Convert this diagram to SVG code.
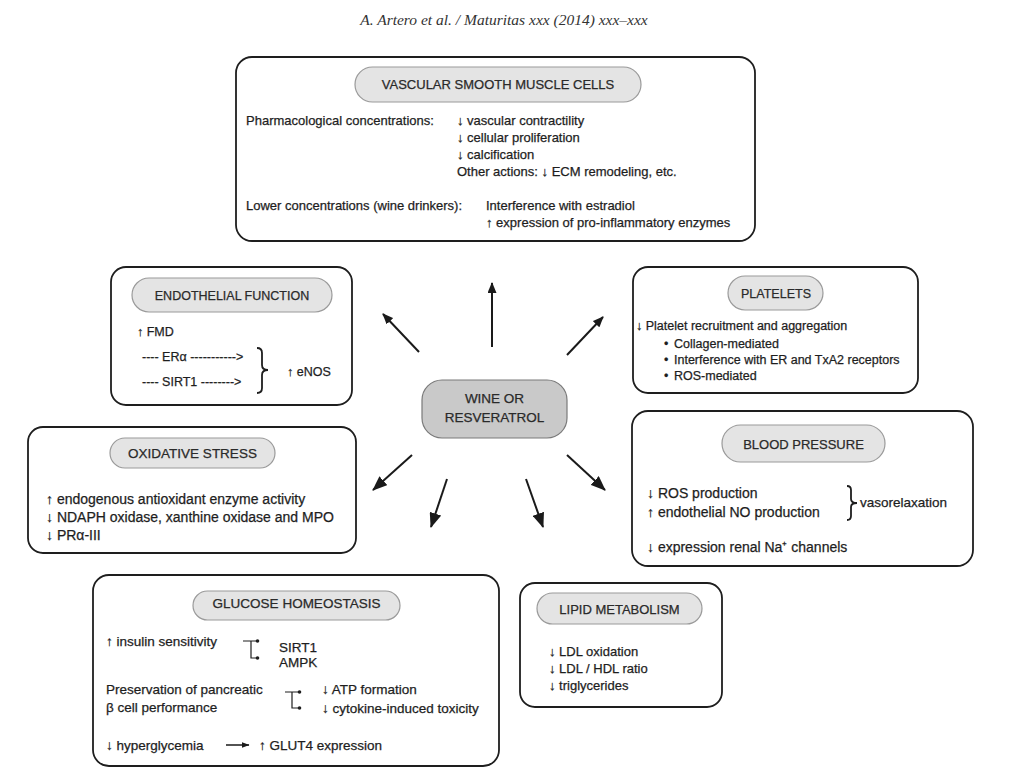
<svg xmlns="http://www.w3.org/2000/svg" width="1011" height="778" viewBox="0 0 1011 778">
<defs>
<style>
.box{fill:#fff;stroke:#1e1e1e;stroke-width:1.8}
.pill{fill:#e4e4e4;stroke:#9a9a9a;stroke-width:1.2}
.cpill{fill:#c9c9c9;stroke:#7a7a7a;stroke-width:1.2}
text{font-family:"Liberation Sans",Arial,sans-serif;fill:#1e1e1e;stroke:#1e1e1e;stroke-width:0.25}
.t{font-size:13px;text-anchor:middle;fill:#2a2a2a;stroke:#2a2a2a}
.b{font-size:13px}
.s{font-size:12.5px}
.e{font-size:12.5px}
.hdr{font-family:"Liberation Serif","Times New Roman",serif;font-style:italic;font-size:15.5px;text-anchor:middle;fill:#333;stroke:none}
.arr{stroke:#1a1a1a;stroke-width:2;fill:none}
.brace{stroke:#1e1e1e;stroke-width:1.8;fill:none}
.inh{stroke:#1e1e1e;stroke-width:1.2;fill:none}
</style>
<marker id="ahS" markerUnits="userSpaceOnUse" markerWidth="11" markerHeight="9" refX="10" refY="4.5" orient="auto" viewBox="0 0 11 9">
<path d="M0,0 L11,4.5 L0,9 z" fill="#1a1a1a"/>
</marker>
<marker id="ahL" markerUnits="userSpaceOnUse" markerWidth="15" markerHeight="12" refX="14" refY="6" orient="auto" viewBox="0 0 15 12">
<path d="M0,0 L15,6 L0,12 z" fill="#1a1a1a"/>
</marker>
<marker id="ahT" markerUnits="userSpaceOnUse" markerWidth="8" markerHeight="6" refX="7.5" refY="3" orient="auto" viewBox="0 0 8 6">
<path d="M0,0 L8,3 L0,6 z" fill="#1a1a1a"/>
</marker>
</defs>
<rect width="1011" height="778" fill="#fff"/>
<text class="hdr" x="504" y="25">A. Artero et al. / Maturitas xxx (2014) xxx–xxx</text>

<g id="vsmc">
<rect class="box" x="236" y="57" width="519" height="184" rx="16"/>
<rect class="pill" x="355" y="67" width="286" height="35" rx="17.5"/>
<text class="t" x="498" y="89">VASCULAR SMOOTH MUSCLE CELLS</text>
<text class="b" x="246" y="125">Pharmacological concentrations:</text>
<text class="b" x="457" y="125">↓ vascular contractility</text>
<text class="b" x="457" y="142">↓ cellular proliferation</text>
<text class="b" x="457" y="159">↓ calcification</text>
<text class="b" x="457" y="176">Other actions: ↓ ECM remodeling, etc.</text>
<text class="b" x="246" y="210">Lower concentrations (wine drinkers):</text>
<text class="b" x="486" y="210">Interference with estradiol</text>
<text class="b" x="486" y="227">↑ expression of pro-inflammatory enzymes</text>
</g>

<g id="endothelial">
<rect class="box" x="111" y="267" width="241" height="138" rx="15"/>
<rect class="pill" x="132" y="278" width="200" height="34" rx="17"/>
<text class="t" x="232" y="299.5" style="font-size:12.5px">ENDOTHELIAL FUNCTION</text>
<text class="e" x="137" y="336">↑ FMD</text>
<text class="e" x="142" y="360.5">---- ERα -----------&gt;</text>
<text class="e" x="142" y="386">---- SIRT1 --------&gt;</text>
<path class="brace" d="M257,348 Q262,348 262,353 L262,365 Q262,370 268,370 Q262,370 262,375 L262,388 Q262,393 257,393"/>
<text class="e" x="287" y="376">↑ eNOS</text>
</g>

<g id="platelets">
<rect class="box" x="633" y="267" width="285" height="126" rx="15"/>
<rect class="pill" x="728" y="276" width="95" height="34" rx="17"/>
<text class="t" x="776" y="297.5" style="font-size:12.5px">PLATELETS</text>
<text class="s" x="636" y="330">↓ Platelet recruitment and aggregation</text>
<text class="s" x="664" y="348">•</text>
<text class="s" x="674" y="348">Collagen-mediated</text>
<text class="s" x="664" y="364">•</text>
<text class="s" x="674" y="364">Interference with ER and TxA2 receptors</text>
<text class="s" x="664" y="380">•</text>
<text class="s" x="674" y="380">ROS-mediated</text>
</g>

<g id="wine">
<rect class="cpill" x="422" y="380" width="145" height="58" rx="20"/>
<text class="t" x="494.5" y="403" style="font-size:13.5px">WINE OR</text>
<text class="t" x="494.5" y="422" style="font-size:13.5px">RESVERATROL</text>
</g>

<g id="oxidative">
<rect class="box" x="28" y="427" width="328" height="126" rx="15"/>
<rect class="pill" x="110" y="438" width="165" height="30" rx="15"/>
<text class="t" x="192.5" y="458" style="font-size:13.5px">OXIDATIVE STRESS</text>
<text class="b" x="46" y="503.5" style="font-size:14px">↑ endogenous antioxidant enzyme activity</text>
<text class="b" x="46" y="521.5" style="font-size:14px">↓ NDAPH oxidase, xanthine oxidase and MPO</text>
<text class="b" x="46" y="539.5" style="font-size:14px">↓ PRα-III</text>
</g>

<g id="bloodpressure">
<rect class="box" x="632" y="411" width="341" height="155" rx="16"/>
<rect class="pill" x="722" y="425" width="163" height="37" rx="18.5"/>
<text class="t" x="803.5" y="448.5">BLOOD PRESSURE</text>
<text class="b" x="647" y="497.5" style="font-size:14px">↓ ROS production</text>
<text class="b" x="647" y="516.5" style="font-size:14px">↑ endothelial NO production</text>
<path class="brace" d="M847,486 Q851,486 851,490 L851,499 Q851,503 857,503 Q851,503 851,507 L851,516 Q851,520 847,520"/>
<text class="b" x="860" y="506.5" style="font-size:13.5px">vasorelaxation</text>
<text class="b" x="647" y="551.5" style="font-size:14px">↓ expression renal Na⁺ channels</text>
</g>

<g id="glucose">
<rect class="box" x="93" y="575" width="406" height="191" rx="16"/>
<rect class="pill" x="193" y="591" width="207" height="29" rx="14.5"/>
<text class="t" x="296.5" y="608" style="font-size:13.5px">GLUCOSE HOMEOSTASIS</text>
<text class="b" x="106" y="645.5" style="font-size:13.5px">↑ insulin sensitivity</text>
<path class="inh" d="M243,641 L257,641 M251,641 L251,658 L257,658"/>
<circle cx="257.5" cy="641" r="1.8" fill="#1e1e1e"/>
<circle cx="257.5" cy="658" r="1.8" fill="#1e1e1e"/>
<text class="b" x="279" y="651.5" style="font-size:13.5px">SIRT1</text>
<text class="b" x="279" y="666.5" style="font-size:13.5px">AMPK</text>
<text class="b" x="106" y="693.5" style="font-size:13.5px">Preservation of pancreatic</text>
<text class="b" x="106" y="711.5" style="font-size:13.5px">β cell performance</text>
<path class="inh" d="M285,692 L299,692 M292,692 L292,708 L299,708"/>
<circle cx="299.5" cy="692" r="1.8" fill="#1e1e1e"/>
<circle cx="299.5" cy="708" r="1.8" fill="#1e1e1e"/>
<text class="b" x="322" y="693.5" style="font-size:13.5px">↓ ATP formation</text>
<text class="b" x="322" y="712.5" style="font-size:13.5px">↓ cytokine-induced toxicity</text>
<text class="b" x="106" y="749.5" style="font-size:13.5px">↓ hyperglycemia</text>
<text class="b" x="259" y="749.5" style="font-size:13.5px">↑ GLUT4 expression</text>
</g>

<g id="lipid">
<rect class="box" x="520" y="583" width="202" height="124" rx="15"/>
<rect class="pill" x="537" y="593" width="165" height="31" rx="15.5"/>
<text class="t" x="619.5" y="613.5">LIPID METABOLISM</text>
<text class="b" x="549" y="655.5">↓ LDL oxidation</text>
<text class="b" x="549" y="672.5">↓ LDL / HDL ratio</text>
<text class="b" x="549" y="689.5">↓ triglycerides</text>
</g>

<g id="connectors">
<line class="arr" x1="492" y1="347" x2="492" y2="283" marker-end="url(#ahS)"/>
<line class="arr" x1="419" y1="352" x2="383" y2="314" marker-end="url(#ahS)"/>
<line class="arr" x1="567" y1="355" x2="603" y2="317" marker-end="url(#ahS)"/>
<line class="arr" x1="412" y1="455" x2="373" y2="490" marker-end="url(#ahL)"/>
<line class="arr" x1="447" y1="479" x2="431" y2="527" marker-end="url(#ahL)"/>
<line class="arr" x1="526" y1="479" x2="543" y2="527" marker-end="url(#ahL)"/>
<line class="arr" x1="567" y1="455" x2="605" y2="490" marker-end="url(#ahL)"/>
<line class="arr" x1="226" y1="745" x2="249" y2="745" style="stroke-width:1.5" marker-end="url(#ahT)"/>
</g>
</svg>
